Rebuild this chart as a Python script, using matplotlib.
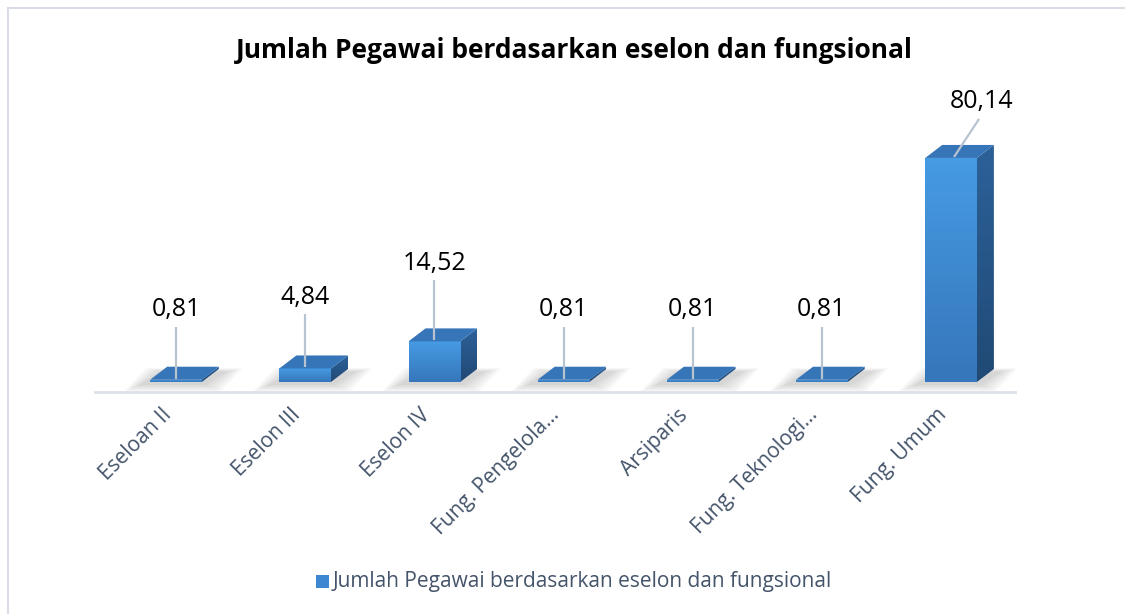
import matplotlib.pyplot as plt
import numpy as np
from matplotlib.patches import Polygon
from matplotlib.colors import LinearSegmentedColormap
from matplotlib.transforms import ScaledTranslation

categories = ['Eseloan II', 'Eselon III', 'Eselon IV', 'Fung. Pengelola\u2026',
              'Arsiparis', 'Fung. Teknologi\u2026', 'Fung. Umum']
values = [0.81, 4.84, 14.52, 0.81, 0.81, 0.81, 80.14]
value_labels = ['0,81', '4,84', '14,52', '0,81', '0,81', '0,81', '80,14']
series_name = 'Jumlah Pegawai berdasarkan eselon dan fungsional'
title = 'Jumlah Pegawai berdasarkan eselon dan fungsional'

plt.rcParams['font.family'] = ['Open Sans', 'DejaVu Sans']

fig = plt.figure(figsize=(11.25, 6.14), dpi=100)
W, H = 1125, 614

# axes placed so one category step ~129 px and one unit ~2.8 px
ax = fig.add_axes([95 / W, 1 - 392 / H, 920 / W, 322 / H])
xlim = (-0.627, 6.495)
ylim = (-3.58, 111.6)
ax.set_xlim(*xlim)
ax.set_ylim(*ylim)
px_x = 920 / (xlim[1] - xlim[0])
px_y = 322 / (ylim[1] - ylim[0])

# 3d depth in data units
ddx = 17 / px_x
ddy = 13 / px_y
bw = 0.4

x = np.arange(len(categories))

front_cmap = LinearSegmentedColormap.from_list('f', ['#3676BB', '#469BE3'])
side_cmap = LinearSegmentedColormap.from_list('s', ['#214A75', '#2C6199'])

# soft floor shadows
for xi in x:
    for k in range(8):
        gx = 0.018 * k
        gy = 0.35 * k
        poly = Polygon([(xi - bw / 2 - 0.08 - gx, -1.0 - gy),
                        (xi + bw / 2 + 0.02 + gx, -1.0 - gy),
                        (xi + bw / 2 + ddx + 0.06 + gx, ddy * 0.8 + gy * 0.5),
                        (xi - bw / 2 + ddx - 0.04 - gx, ddy * 0.8 + gy * 0.5)],
                       closed=True, facecolor='#808080', edgecolor='none',
                       alpha=0.045, zorder=1)
        ax.add_patch(poly)

bars = ax.bar(x, values, width=bw, color='#3C85CF', zorder=3)

for xi, v, b in zip(x, values, bars):
    l = xi - bw / 2
    r = xi + bw / 2
    grad = np.linspace(0, 1, 64).reshape(-1, 1)
    im = ax.imshow(grad, extent=(l, r, 0, v), origin='lower', cmap=front_cmap,
                   aspect='auto', zorder=3.1)
    im.set_clip_path(b)
    side = Polygon([(r, 0), (r + ddx, ddy), (r + ddx, v + ddy), (r, v)],
                   closed=True, facecolor='none', edgecolor='none', zorder=3)
    ax.add_patch(side)
    im2 = ax.imshow(grad, extent=(r, r + ddx, 0, v + ddy), origin='lower',
                    cmap=side_cmap, aspect='auto', zorder=3)
    im2.set_clip_path(side)
    top = Polygon([(l, v), (r, v), (r + ddx, v + ddy), (l + ddx, v + ddy)],
                  closed=True, facecolor='#3575B8', edgecolor='none', zorder=3.2)
    ax.add_patch(top)

ax.set_xlim(*xlim)
ax.set_ylim(*ylim)

# data labels with leader lines
label_shift_px = [(0, 70), (0, 71), (0, 78), (0, 70), (0, 70), (0, 70), (31, 56)]
for xi, v, txt, (sx, sy) in zip(x, values, value_labels, label_shift_px):
    lx = xi + sx / px_x
    ly = v + sy / px_y
    ax.text(lx, ly, txt, ha='center', va='center', fontsize=18, color='#000000',
            zorder=5)
    x0 = xi + (3 / px_x if sx else 0)
    x1 = lx - (3 / px_x if sx else 0)
    ax.plot([x0, x1], [v + 1 / px_y, ly - 17 / px_y], color='#B8C3D1', lw=1.6,
            zorder=4, solid_capstyle='butt')

for s in ['top', 'right', 'left']:
    ax.spines[s].set_visible(False)
ax.spines['bottom'].set_color('#DDE2E9')
ax.spines['bottom'].set_linewidth(2)
ax.set_yticks([])
ax.set_xticks(x)
ax.set_xticklabels(categories, rotation=45, ha='right', va='top',
                   rotation_mode='anchor', fontsize=15, color='#44546A')
ax.tick_params(axis='x', length=0, pad=9)
shift = ScaledTranslation(-15 / 100, 0, fig.dpi_scale_trans)
for lab in ax.get_xticklabels():
    lab.set_transform(lab.get_transform() + shift)

fig.text(574 / W, 1 - 50 / H, title, ha='center', va='center', fontsize=19,
         fontweight='bold', color='#000000')

# legend
fig.patches.append(plt.Rectangle((316 / W, 1 - 588 / H), 13 / W, 13 / H,
                                 transform=fig.transFigure, facecolor='#3D87D2',
                                 edgecolor='none'))
fig.text(333 / W, 1 - 581 / H, series_name, ha='left', va='center', fontsize=15,
         color='#44546A')

# chart border (only top and left visible)
fig.add_artist(plt.Line2D([8 / W, 1], [1 - 8 / H, 1 - 8 / H], transform=fig.transFigure,
                          color='#D9DEE6', lw=1.5))
fig.add_artist(plt.Line2D([8 / W, 8 / W], [0, 1 - 8 / H], transform=fig.transFigure,
                          color='#D9DEE6', lw=1.5))

fig.savefig('out.png', dpi=100)
